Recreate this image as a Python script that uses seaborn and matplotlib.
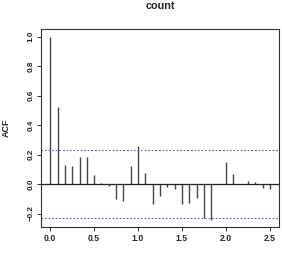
import numpy as np
import matplotlib
matplotlib.use("Agg")
import matplotlib.pyplot as plt
import seaborn as sns

# monthly series -> lags in years (lag k / 12)
lag_index = list(range(31))
freq = 12
acf_vals = [1.0, 0.52, 0.129, 0.124, 0.183, 0.181, 0.059, 0.004, -0.016, -0.10,
            -0.118, 0.12, 0.26, 0.077, -0.138, -0.079, -0.02, -0.032, -0.133, -0.127,
            -0.095, -0.23, -0.242, 0.002, 0.149, 0.066, 0.003, 0.02, 0.014, -0.027,
            -0.036]
n_obs = 72
title = "count"
xticks = [0.0, 0.5, 1.0, 1.5, 2.0, 2.5]
yticks = [-0.2, 0.0, 0.2, 0.4, 0.6, 0.8, 1.0]

sns.set_style("white")
plt.rcParams['font.family'] = ['Liberation Sans', 'DejaVu Sans']

lags = np.array(lag_index) / freq
acf_vals = np.array(acf_vals)
clim = 1.96 / np.sqrt(n_obs)

fig = plt.figure(figsize=(2.82, 2.56), dpi=100)
ax = fig.add_axes([0.147, 0.113, 0.841, 0.773])

ax.vlines(lags, 0, acf_vals, color="#444444", linewidth=1.0)
ax.axhline(0, color="#222222", linewidth=0.9)
for c in (clim, -clim):
    ax.axhline(c, color="#6060d8", linewidth=0.8, linestyle=(0, (1.6, 1.6)))

ymin = min(acf_vals.min(), -clim)
yr = 1.0 - ymin
ax.set_ylim(ymin - 0.04 * yr, 1.0 + 0.04 * yr)
ax.set_xlim(-0.1, 2.6)

ax.set_xticks(xticks)
ax.set_xticklabels([f"{t:.1f}" for t in xticks], fontsize=6.2, fontweight="bold")
ax.set_yticks(yticks)
ax.set_yticklabels([f"{t:.1f}".replace("-", "\u2212") for t in yticks], fontsize=5.8,
                   fontweight="bold", rotation=90, va="center")
ax.tick_params(axis="both", direction="out", length=3, width=0.7, color="#333333",
               pad=2, bottom=True, left=True)
for s in ax.spines.values():
    s.set_color("#333333")
    s.set_linewidth(0.8)

ax.set_ylabel("ACF", fontsize=6.5, fontweight="bold")
ax.yaxis.set_label_coords(-0.128, 0.5)
fig.text(0.567, 0.977, title, ha="center", va="center", fontsize=7.8, fontweight="bold")

fig.savefig("out.png", dpi=100)
